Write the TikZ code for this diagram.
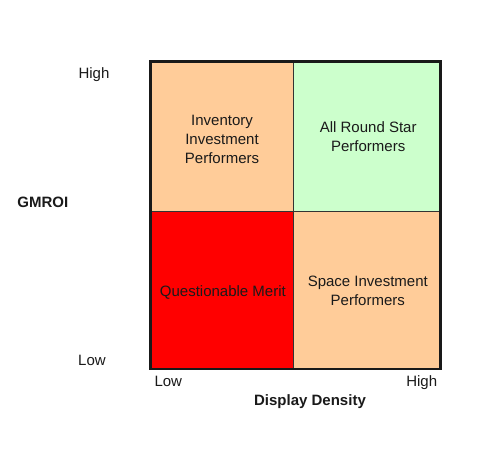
\documentclass[tikz,border=0pt]{standalone}
\usepackage{fontspec}
\setmainfont{Liberation Sans}
\definecolor{peach}{HTML}{FFCC99}
\definecolor{mint}{HTML}{CCFFCC}
\definecolor{redq}{HTML}{FF0000}
\definecolor{txt}{HTML}{1A1A1A}
\definecolor{gridline}{HTML}{333333}
\begin{document}
\begin{tikzpicture}[x=1pt,y=-1pt,
  lbl/.style={inner sep=0pt, text=txt, font=\fontsize{15}{19}\selectfont},
  axis/.style={inner sep=0pt, text=txt, font=\fontsize{15}{19}\selectfont\bfseries},
  qtext/.style={inner sep=0pt, text=txt, align=center, font=\fontsize{15}{19}\selectfont}]
\useasboundingbox[fill=white] (0,0) rectangle (494,451);
% quadrants
\coordinate (tl) at (150.7,61.3);
\coordinate (mm) at (293.5,211.5);
\coordinate (br) at (440.5,369);
\fill[peach] (150.7,61.3) rectangle (293.5,211.5);
\fill[mint] (293.5,61.3) rectangle (440.5,211.5);
\fill[redq] (150.7,211.5) rectangle (293.5,369);
\fill[peach] (293.5,211.5) rectangle (440.5,369);
\draw[gridline, line width=1.8pt] (293.5,61.3) -- (293.5,369);
\draw[gridline, line width=1.8pt] (150.7,211.5) -- (440.5,211.5);
\draw[black!90, line width=2.5pt] (tl) rectangle (br);
% quadrant texts
\node[qtext, anchor=base] (q1) at (222,163.3) {Inventory\\Investment\\Performers};
\node[qtext, anchor=base] (q2) at (368.2,151.7) {All Round Star\\Performers};
\node[qtext, anchor=base] (q3) at (222.9,296) {Questionable Merit};
\node[qtext, anchor=base] (q4) at (367.8,305) {Space Investment\\Performers};
% axis labels
\node[lbl, anchor=base] (yhigh) at (94,78.3) {High};
\node[lbl, anchor=base] (ylow) at (92,365) {Low};
\node[axis, anchor=base] (ylab) at (42.8,207.7) {GMROI};
\node[lbl, anchor=base west] (xlow) at (154.3,386) {Low};
\node[lbl, anchor=base east] (xhigh) at (437.3,386) {High};
\node[axis, anchor=base] (xlab) at (310,405) {Display Density};
\end{tikzpicture}
\end{document}
